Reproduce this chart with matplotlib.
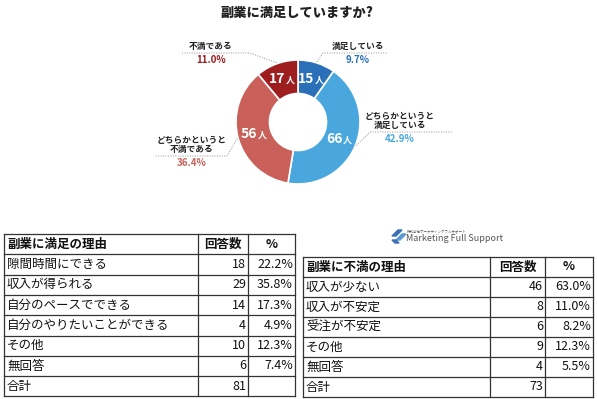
import numpy as np
import matplotlib
matplotlib.use('Agg')
from matplotlib import pyplot as plt
from matplotlib.patches import Polygon

plt.rcParams['font.family'] = ['Noto Sans CJK JP', 'DejaVu Sans']

# donut data
pie_labels = ['満足している', 'どちらかというと\n満足している', 'どちらかというと\n不満である', '不満である']
pie_counts = [15, 66, 56, 17]
pie_pcts = ['9.7%', '42.9%', '36.4%', '11.0%']
pie_colors = ['#2a70b8', '#4aa7dd', '#c9615a', '#9e1d1f']

# left table
sat_header = ['副業に満足の理由', '回答数', '%']
sat_items = ['隙間時間にできる', '収入が得られる', '自分のペースでできる', '自分のやりたいことができる', 'その他', '無回答']
sat_counts = [18, 29, 14, 4, 10, 6]
sat_pcts = ['22.2%', '35.8%', '17.3%', '4.9%', '12.3%', '7.4%']
sat_total = 81

# right table
dis_header = ['副業に不満の理由', '回答数', '%']
dis_items = ['収入が少ない', '収入が不安定', '受注が不安定', 'その他', '無回答']
dis_counts = [46, 8, 6, 9, 4]
dis_pcts = ['63.0%', '11.0%', '8.2%', '12.3%', '5.5%']
dis_total = 73

W, H = 597, 399
fig = plt.figure(figsize=(W / 100, H / 100), dpi=100)

# donut
cx, cy, R, r_in = 298, 122, 62, 28.5
pax = fig.add_axes([(cx - R) / W, (H - cy - R) / H, 2 * R / W, 2 * R / H])
pax.pie(pie_counts, colors=pie_colors, startangle=90, counterclock=False, radius=1,
        wedgeprops=dict(width=1 - r_in / R, edgecolor='white', linewidth=1.2))
pax.set_xlim(-1, 1)
pax.set_ylim(-1, 1)
pax.set_aspect('auto')
pax.axis('off')

# overlay in pixel coords
ax = fig.add_axes([0, 0, 1, 1])
ax.set_xlim(0, W)
ax.set_ylim(H, 0)
ax.axis('off')

ax.text(297, 13, '副業に満足していますか?', ha='center', va='center', fontsize=9.5, fontweight='heavy', color='#222222')

total = sum(pie_counts)
cum = np.cumsum([0] + pie_counts)
mids = [90 - (cum[i] + pie_counts[i] / 2) / total * 360 for i in range(len(pie_counts))]
r_mid = (R + r_in) / 2
for i, c in enumerate(pie_counts):
    a = np.radians(mids[i])
    x = cx + r_mid * np.cos(a)
    y = cy - r_mid * np.sin(a)
    ax.text(x + 3, y, str(c), ha='right', va='center', fontsize=10, fontweight='bold', color='white')
    ax.text(x + 3, y + 1, '人', ha='left', va='center', fontsize=6.5, fontweight='bold', color='white')

# leader lines and outside labels: (elbow, line end, text x)
leaders = [
    ((323, 53), (388, 53), 358),
    ((370, 132), (453, 132), 400),
    ((227, 156), (155, 156), 192),
    ((250, 53), (182, 53), 211),
]
for i in range(len(pie_counts)):
    a = np.radians(mids[i])
    sx = cx + (R + 1) * np.cos(a)
    sy = cy - (R + 1) * np.sin(a)
    (ex, ey), (lx, ly), tx = leaders[i]
    ax.plot([sx, ex, lx], [sy, ey, ly], ls=(0, (1, 1.2)), color='#aaaaaa', lw=0.8)
    ax.text(tx, ey - 2, pie_labels[i], ha='center', va='bottom', fontsize=6.3, fontweight='bold',
            color='#222222', linespacing=1.0)
    ax.text(tx, ey + 2, pie_pcts[i], ha='center', va='top', fontsize=7, fontweight='bold', color=pie_colors[i])


def draw_table(x_cols, y0, row_h, header, items, counts, pcts, tot):
    n = len(items) + 2
    y_end = y0 + n * row_h
    for k in range(n + 1):
        ax.plot([x_cols[0], x_cols[-1]], [y0 + k * row_h] * 2, color='#333333', lw=0.9)
    for xc in x_cols:
        ax.plot([xc, xc], [y0, y_end], color='#333333', lw=0.9)
    fs = 9
    yc = y0 + row_h / 2
    ax.text(x_cols[0] + 3, yc, header[0], ha='left', va='center', fontsize=fs, fontweight='bold', color='#111111')
    ax.text((x_cols[1] + x_cols[2]) / 2, yc, header[1], ha='center', va='center', fontsize=fs, fontweight='bold', color='#111111')
    ax.text((x_cols[2] + x_cols[3]) / 2, yc, header[2], ha='center', va='center', fontsize=fs, fontweight='bold', color='#111111')
    for k, item in enumerate(items):
        yc = y0 + (k + 1.5) * row_h
        ax.text(x_cols[0] + 3, yc, item, ha='left', va='center', fontsize=fs, color='#111111')
        ax.text(x_cols[2] - 2, yc, str(counts[k]), ha='right', va='center', fontsize=fs, color='#111111')
        ax.text(x_cols[3] - 2, yc, pcts[k], ha='right', va='center', fontsize=fs, color='#111111')
    yc = y0 + (n - 0.5) * row_h
    ax.text(x_cols[0] + 3, yc, '合計', ha='left', va='center', fontsize=fs, color='#111111')
    ax.text(x_cols[2] - 2, yc, str(tot), ha='right', va='center', fontsize=fs, color='#111111')


draw_table([4, 198, 248, 295], 234, 20.3, sat_header, sat_items, sat_counts, sat_pcts, sat_total)
draw_table([303, 490, 545, 593], 257, 20, dis_header, dis_items, dis_counts, dis_pcts, dis_total)

# logo
ax.add_patch(Polygon([[392, 236], [398, 230], [402, 230], [396, 236]], closed=True, color='#3b6fb6'))
ax.add_patch(Polygon([[396, 240], [402, 234], [406, 234], [400, 240]], closed=True, color='#5b9bd5'))
ax.add_patch(Polygon([[392, 240], [396, 240], [399, 243], [395, 243]], closed=True, color='#3b6fb6'))
ax.text(407, 232, '株式会社マーケティングフルサポート', ha='left', va='center', fontsize=2.5, color='#555555')
ax.text(406, 238.5, 'Marketing Full Support', ha='left', va='center', fontsize=6.5, color='#555555')

fig.savefig('out.png', dpi=100)
